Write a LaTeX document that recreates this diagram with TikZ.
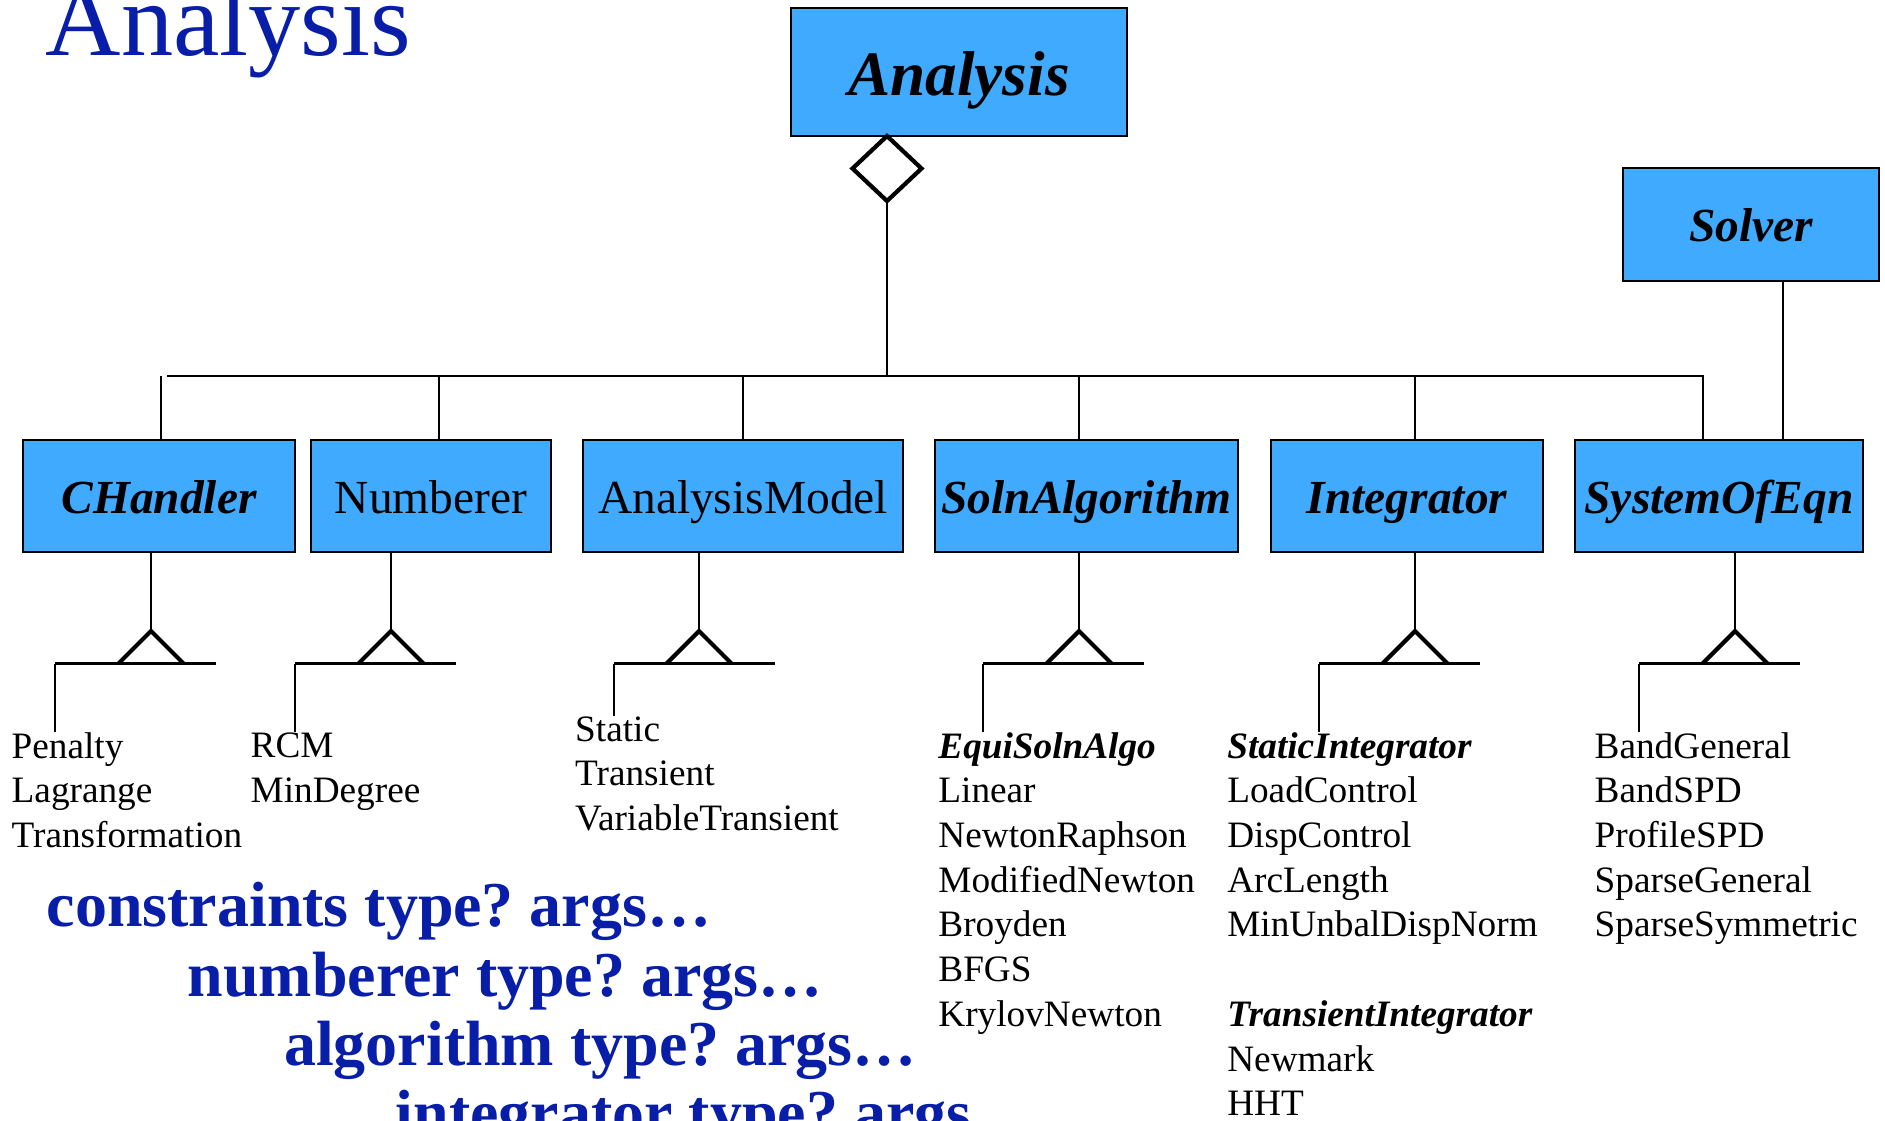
\documentclass[tikz,border=0pt]{standalone}
\usepackage{fontspec}
\setmainfont{Liberation Serif}
\frenchspacing
\usetikzlibrary{positioning, shapes.geometric}
\definecolor{boxblue}{RGB}{64,170,255}
\definecolor{cmdblue}{RGB}{8,30,168}
\tikzset{
class/.style={
  draw, 
  fill=boxblue, 
  minimum height=1.12cm, 
  inner sep=0pt, outer sep=0pt, text height=9.7pt, text depth=0pt,
  line width=0.6pt,
  font=\fontsize{13.5}{16}\selectfont
  }, 
abstract/.style={class, font=\fontsize{13.5}{16}\selectfont\bfseries\itshape},
agg/.style={diamond, draw, line width=1.2pt, minimum width=0.69cm, minimum height=0.65cm, inner sep=0pt, outer sep=0pt, anchor=north},
list/.style={anchor=north west, align=left, inner sep=0pt, font=\fontsize{10.6}{12.72}\selectfont},
cmd/.style={anchor=base west, inner sep=0pt, text=cmdblue, font=\fontsize{18.2}{22}\selectfont\bfseries},
title/.style={anchor=base west, inner sep=0pt, text=cmdblue, font=\fontsize{29.7}{34}\selectfont},
line/.style={line width=0.6pt},
gen/.style={line width=1.2pt},
pics/subcls/.style={code={
  \draw[gen] (-0.325,-0.325) -- (0,0) -- (0.325,-0.325);
  \draw[line] (-#1,-0.325) coordinate (-drop) -- (1.61-#1,-0.325);
  }}
}

\begin{document}
\begin{tikzpicture}
\useasboundingbox (0,0) rectangle (18.85,-11.2);

\coordinate	(hub)		at (8.87,-3.76);
\coordinate	(bus-west)	at (1.67,-3.76);
\coordinate	(bus-east)	at (17.03,-3.76);

\node[title]	(title)		at (0.45,-0.55)		{Analysis};
\node[abstract, minimum width=3.36cm, minimum height=1.28cm, text height=13.1pt, font=\fontsize{18}{22}\selectfont\bfseries\itshape]
				(analysis)	at (9.59,-0.72)		{Analysis};
\node[agg]		(agg)		at (analysis.south -| hub)	{};
\node[abstract, minimum width=2.56cm, minimum height=1.13cm]
				(solver)	at (17.51,-2.245)	{Solver};

\node[abstract, minimum width=2.72cm]	(chandler)		at (1.59,-4.96)					{CHandler};
\node[class, minimum width=2.40cm]		(numberer)		[right=0.16cm of chandler]		{Numberer};
\node[class, minimum width=3.20cm]		(anamodel)		[right=0.32cm of numberer]		{AnalysisModel};
\node[abstract, minimum width=3.03cm]	(algorithm)		[right=0.32cm of anamodel]		{SolnAlgorithm};
\node[abstract, minimum width=2.72cm]	(integrator)	[right=0.33cm of algorithm]		{Integrator};
\node[abstract, minimum width=2.88cm]	(soe)			[right=0.32cm of integrator]	{SystemOfEqn};

\node[list]	(chandler-list)		at (0.11,-7.315)	{Penalty\\Lagrange\\Transformation};
\node[list]	(numberer-list)		at (2.50,-7.323)	{RCM\\MinDegree};
\node[list]	(anamodel-list)		at (5.745,-7.159)	{Static\\Transient\\VariableTransient};
\node[list]	(algorithm-list)	at (9.377,-7.315)	{\textbf{\textit{EquiSolnAlgo}}\\Linear\\NewtonRaphson\\ModifiedNewton\\Broyden\\BFGS\\KrylovNewton};
\node[list]	(integrator-list)	at (12.266,-7.315)	{\textbf{\textit{StaticIntegrator}}\\LoadControl\\DispControl\\ArcLength\\MinUnbalDispNorm\\[12.72pt]\textbf{\textit{TransientIntegrator}}\\Newmark\\HHT};
\node[list]	(soe-list)			at (15.94,-7.315)	{BandGeneral\\BandSPD\\ProfileSPD\\SparseGeneral\\SparseSymmetric};

\node[cmd]	(cmd-constraints)	at (0.46,-9.267)	{constraints type? args…};
\node[cmd]	(cmd-numberer)		at (1.87,-9.96)		{numberer type? args…};
\node[cmd]	(cmd-algorithm)		at (2.835,-10.65)	{algorithm type? args…};
\node[cmd]	(cmd-integrator)	at (3.95,-11.34)	{integrator type? args…};

\draw[line]	(agg.south)		--	(hub);
\draw[line]	(bus-west)		--	(bus-east)	--	(soe.north -| bus-east);
\draw[line]	([xshift=-0.06cm]bus-west |- chandler.north)	--	([xshift=-0.06cm]bus-west);
\draw[line]	([xshift=0.08cm]numberer.north)		--	([xshift=0.08cm]numberer.north |- hub);
\draw[line]	(anamodel.north)				--	(anamodel.north |- hub);
\draw[line]	([xshift=-0.075cm]algorithm.north)	--	([xshift=-0.075cm]algorithm.north |- hub);
\draw[line]	([xshift=0.08cm]integrator.north)	--	([xshift=0.08cm]integrator.north |- hub);
\draw[line]	([xshift=0.32cm]solver.south)		--	([xshift=0.32cm]solver.south |- soe.north);

\coordinate	(chandler-apex)		at (1.51,-6.31);
\coordinate	(numberer-apex)		at (3.91,-6.31);
\coordinate	(anamodel-apex)		at (6.99,-6.31);
\coordinate	(algorithm-apex)	at (10.79,-6.31);
\coordinate	(integrator-apex)	at (14.15,-6.31);
\coordinate	(soe-apex)			at (17.35,-6.31);

\draw[line]	(chandler.south -| chandler-apex)		--	(chandler-apex);
\draw[line]	(numberer.south -| numberer-apex)		--	(numberer-apex);
\draw[line]	(anamodel.south -| anamodel-apex)		--	(anamodel-apex);
\draw[line]	(algorithm.south -| algorithm-apex)		--	(algorithm-apex);
\draw[line]	(integrator.south -| integrator-apex)	--	(integrator-apex);
\draw[line]	(soe.south -| soe-apex)					--	(soe-apex);

\pic	(chandler-gen)		at (chandler-apex)		{subcls=0.96};
\pic	(numberer-gen)		at (numberer-apex)		{subcls=0.96};
\pic	(anamodel-gen)		at (anamodel-apex)		{subcls=0.85};
\pic	(algorithm-gen)		at (algorithm-apex)		{subcls=0.96};
\pic	(integrator-gen)	at (integrator-apex)	{subcls=0.96};
\pic	(soe-gen)			at (soe-apex)			{subcls=0.96};

\draw[line]	(chandler-gen-drop)		--	(chandler-gen-drop |- chandler-list.north);
\draw[line]	(numberer-gen-drop)		--	(numberer-gen-drop |- numberer-list.north);
\draw[line]	(anamodel-gen-drop)		--	(anamodel-gen-drop |- anamodel-list.north);
\draw[line]	(algorithm-gen-drop)	--	(algorithm-gen-drop |- algorithm-list.north);
\draw[line]	(integrator-gen-drop)	--	(integrator-gen-drop |- integrator-list.north);
\draw[line]	(soe-gen-drop)			--	(soe-gen-drop |- soe-list.north);
\end{tikzpicture}
\end{document}
